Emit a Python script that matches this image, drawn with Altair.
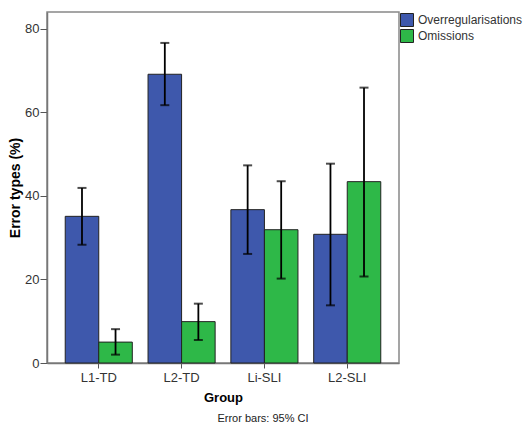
import altair as alt
import pandas as pd

groups = ["L1-TD", "L2-TD", "Li-SLI", "L2-SLI"]
series = ["Overregularisations", "Omissions"]
over_mean = [35.1, 69.1, 36.7, 30.8]
over_lo = [28.3, 61.7, 26.1, 13.8]
over_hi = [41.9, 76.6, 47.3, 47.7]
om_mean = [5.0, 9.9, 31.9, 43.4]
om_lo = [2.0, 5.5, 20.2, 20.7]
om_hi = [8.1, 14.2, 43.5, 65.9]
colors = ["#3E58AC", "#2EB848"]

rows = []
for i, g in enumerate(groups):
    rows.append({"group": g, "series": series[0], "mean": over_mean[i], "lo": over_lo[i], "hi": over_hi[i]})
    rows.append({"group": g, "series": series[1], "mean": om_mean[i], "lo": om_lo[i], "hi": om_hi[i]})
df = pd.DataFrame(rows)

FONT = "Arial, Liberation Sans, sans-serif"

base = alt.Chart(df).encode(
    x=alt.X("group:N", sort=groups,
            scale=alt.Scale(paddingInner=0.19, paddingOuter=0.22),
            axis=alt.Axis(title="Group", labelAngle=0, tickSize=5, labelPadding=3,
                          titlePadding=7, titleFontSize=13, titleFontWeight="bold")),
    xOffset=alt.XOffset("series:N", sort=series, scale=alt.Scale(paddingInner=0, paddingOuter=0)),
)

yscale = alt.Scale(domain=[0, 84], nice=False)

bars = base.mark_bar(stroke="#222222", strokeWidth=1).encode(
    y=alt.Y("mean:Q", scale=yscale,
            axis=alt.Axis(title="Error types (%)", values=[0, 20, 40, 60, 80], grid=False,
                          tickSize=7, labelPadding=1, titlePadding=2,
                          titleFontSize=14, titleFontWeight="bold")),
    color=alt.Color("series:N", sort=series,
                    scale=alt.Scale(domain=series, range=colors),
                    legend=alt.Legend(title=None, orient="none", legendX=353, legendY=1,
                                      symbolType="square", symbolSize=169,
                                      symbolStrokeColor="#222222", symbolStrokeWidth=1,
                                      labelFontSize=12, labelOffset=4, rowPadding=-3,
                                      padding=0, labelColor="#333333", labelFont=FONT)),
)

rules = base.mark_rule(color="black", strokeWidth=1.8).encode(y=alt.Y("lo:Q", scale=yscale), y2="hi:Q")
caps_lo = base.mark_tick(color="black", size=9, thickness=2).encode(y=alt.Y("lo:Q", scale=yscale))
caps_hi = base.mark_tick(color="black", size=9, thickness=2).encode(y=alt.Y("hi:Q", scale=yscale))

chart = alt.layer(bars, rules, caps_lo, caps_hi).properties(
    width=352, height=351,
    autosize="none",
    background="white",
    padding={"left": 47, "top": 12, "right": 128, "bottom": 62},
    title=alt.TitleParams("Error bars: 95% CI", orient="bottom", anchor="middle", dx=40,
                          fontSize=11, fontWeight="normal", color="#222222", font=FONT, offset=9),
).configure_view(
    stroke="#888888", strokeWidth=1.5
).configure_axis(
    labelFont=FONT, titleFont=FONT, labelFontSize=13, labelColor="#333333",
    titleColor="#000000", tickColor="#555555", domainColor="#777777", domainWidth=1.5
)

chart.save("out.html", embed_options={"renderer": "svg", "actions": False})
